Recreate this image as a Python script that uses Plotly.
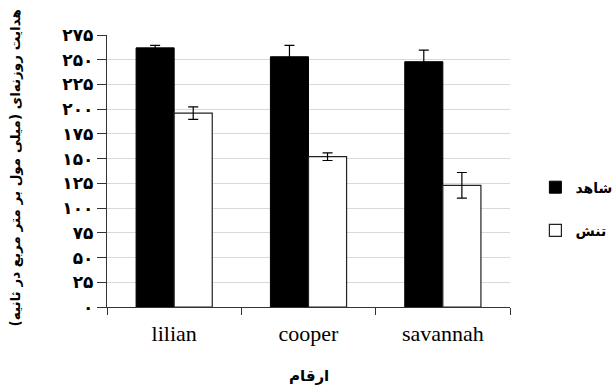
import plotly.graph_objects as go

# Cultivars and treatment means (stomatal conductance, mmol m-2 s-1)
cultivars = ["lilian", "cooper", "savannah"]
control_vals = [262, 253, 248]
control_err = [2.5, 11.5, 11.8]
stress_vals = [196, 152, 123]
stress_err = [6.4, 3.9, 13]

tick_vals = [0, 25, 50, 75, 100, 125, 150, 175, 200, 225, 250, 275]
tick_text = ["۰", "۲۵", "۵۰", "۷۵", "۱۰۰", "۱۲۵", "۱۵۰", "۱۷۵", "۲۰۰", "۲۲۵", "۲۵۰", "۲۷۵"]

fa_font = "DejaVu Sans"

fig = go.Figure()
fig.add_trace(go.Bar(
    x=cultivars, y=control_vals, name="شاهد", legendgroup="a",
    marker=dict(color="black", line=dict(color="black", width=1)),
    error_y=dict(type="data", array=control_err, color="black", thickness=1.2, width=5),
))
fig.add_trace(go.Bar(
    x=cultivars, y=stress_vals, name="تنش", legendgroup="b",
    marker=dict(color="white", line=dict(color="#222222", width=1.2)),
    error_y=dict(type="data", array=stress_err, color="black", thickness=1.2, width=5),
))

fig.update_layout(
    width=612, height=390,
    margin=dict(l=107, r=102, t=35, b=83, autoexpand=False),
    paper_bgcolor="white", plot_bgcolor="white",
    barmode="group", bargap=0.433, bargroupgap=0,
    showlegend=True,
    legend=dict(
        x=1.063, xanchor="left", y=0.36, yanchor="middle",
        font=dict(family=fa_font, size=14, color="black", weight="bold"),
        tracegroupgap=22, itemwidth=30,
    ),
    xaxis=dict(
        showline=True, linecolor="#333333", linewidth=1.2,
        ticks="outside", tickson="boundaries", ticklen=7, tickcolor="#333333",
        tickfont=dict(family="Liberation Serif", size=22, color="black"),
        ticklabelstandoff=6,
        showgrid=False,
    ),
    yaxis=dict(
        range=[0, 275], tickvals=tick_vals, ticktext=tick_text,
        showline=True, linecolor="#333333", linewidth=1.2,
        ticks="outside", ticklen=9, tickcolor="#333333",
        tickfont=dict(family=fa_font, size=17, color="black", weight="bold"),
        showgrid=True, gridcolor="#d9d9d9", gridwidth=1, zeroline=False,
    ),
    annotations=[
        dict(text="<b>هدایت روزنه‌ای (میلی مول بر متر مربع در ثانیه)</b>",
             xref="paper", yref="paper", x=-0.228, y=0.51,
             xanchor="center", yanchor="middle", textangle=-90, showarrow=False,
             font=dict(family=fa_font, size=13.5, color="black")),
        dict(text="<b>ارقام</b>",
             xref="paper", yref="paper", x=0.5, y=-0.255,
             xanchor="center", yanchor="middle", showarrow=False,
             font=dict(family=fa_font, size=15, color="black")),
    ],
)

fig.write_html("out.html")
